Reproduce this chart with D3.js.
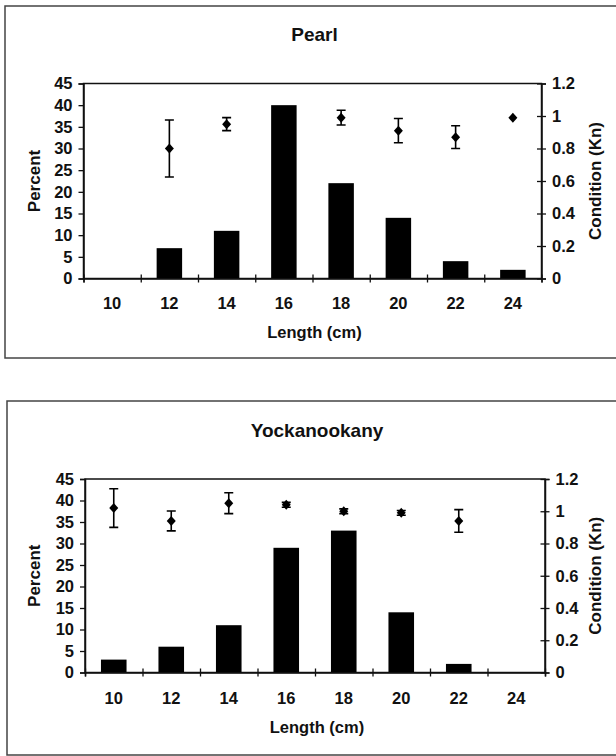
<!DOCTYPE html>
<html>
<head>
<meta charset="utf-8">
<script src="https://cdn.jsdelivr.net/npm/d3@7"></script>
<style>
  body { margin: 0; background: #fff; }
  text { font-family: "Liberation Sans", Arial, sans-serif; font-weight: bold; fill: #111; }
</style>
</head>
<body>
<script>
'use strict';

// length classes (cm)
const lengths = [10, 12, 14, 16, 18, 20, 22, 24];

// Pearl
const pearlPercent = [0, 7, 11, 40, 22, 14, 4, 2];
const pearlKn = [null, 0.80, 0.95, null, 0.99, 0.91, 0.87, 0.99];
const pearlKnErr = [null, 0.175, 0.04, null, 0.045, 0.075, 0.07, 0];

// Yockanookany
const yockPercent = [3, 6, 11, 29, 33, 14, 2, 0];
const yockKn = [1.02, 0.94, 1.05, 1.04, 1.00, 0.99, 0.94, null];
const yockKnErr = [0.12, 0.062, 0.065, 0.015, 0.015, 0.015, 0.07, null];

const percentTicks = [0, 5, 10, 15, 20, 25, 30, 35, 40, 45];
const knTicks = [0, 0.2, 0.4, 0.6, 0.8, 1, 1.2];

const svg = d3.select("body").append("svg")
    .attr("width", 616)
    .attr("height", 756);

const panels = [
    { title: "Pearl", percent: pearlPercent, kn: pearlKn, err: pearlKnErr,
      frame: [5, 6, 358], titleY: 34, left: 83.5, right: 541.5, top: 83.5, bottom: 278.5,
      labelY: 303, xTitleY: 332 },
    { title: "Yockanookany", percent: yockPercent, kn: yockKn, err: yockKnErr,
      frame: [7, 401, 755], titleY: 430, left: 85, right: 545, top: 479, bottom: 672.5,
      labelY: 698, xTitleY: 727 }
];

panels.forEach(drawPanel);

function drawPanel(p) {
    // outer frame (runs off the right edge in the scan)
    svg.append("rect")
        .attr("x", p.frame[0]).attr("y", p.frame[1])
        .attr("width", 640).attr("height", p.frame[2] - p.frame[1])
        .attr("fill", "none").attr("stroke", "#444").attr("stroke-width", 1.5);

    const g = svg.append("g");

    const x = d3.scaleBand()
        .domain(lengths)
        .range([p.left, p.right]);

    const edge = d3.scaleLinear()
        .domain([0, lengths.length])
        .range([p.left, p.right]);

    const y = d3.scaleLinear().domain([0, 45]).range([p.bottom, p.top]);
    const y2 = d3.scaleLinear().domain([0, 1.2]).range([p.bottom, p.top]);

    // plot area border
    g.append("rect")
        .attr("x", p.left).attr("y", p.top)
        .attr("width", p.right - p.left).attr("height", p.bottom - p.top)
        .attr("fill", "none").attr("stroke", "#111").attr("stroke-width", 1.5);

    // bars
    const bw = x.bandwidth() * 0.445;
    g.selectAll("rect.bar")
        .data(p.percent)
        .enter().append("rect")
        .attr("class", "bar")
        .attr("x", (d, i) => x(lengths[i]) + x.bandwidth() / 2 - bw / 2)
        .attr("y", d => y(d))
        .attr("width", bw)
        .attr("height", d => p.bottom - y(d))
        .attr("fill", "#000");

    // left axis
    const yAxis = g.append("g")
        .attr("transform", `translate(${p.left},0)`)
        .call(d3.axisLeft(y).tickValues(percentTicks).tickSize(5).tickPadding(6));
    styleAxis(yAxis);

    // right axis, ticks crossing
    const y2Axis = g.append("g")
        .attr("transform", `translate(${p.right},0)`)
        .call(d3.axisRight(y2).tickValues(knTicks).tickSize(4.5).tickPadding(6)
            .tickFormat(d => String(+d.toFixed(1))));
    styleAxis(y2Axis);
    y2Axis.selectAll(".tick line").attr("x1", -4.5);

    // x axis: ticks at class boundaries, crossing
    const xAxis = g.append("g")
        .attr("transform", `translate(0,${p.bottom})`)
        .call(d3.axisBottom(edge).tickValues(d3.range(lengths.length + 1)).tickSize(4).tickFormat(""));
    styleAxis(xAxis);
    xAxis.selectAll(".tick line").attr("y1", -4);

    // x labels at class centres
    g.selectAll("text.xl")
        .data(lengths)
        .enter().append("text")
        .attr("class", "xl")
        .attr("x", d => x(d) + x.bandwidth() / 2)
        .attr("y", p.labelY)
        .attr("text-anchor", "middle")
        .attr("dominant-baseline", "central")
        .style("font-size", "16.5px")
        .text(d => d);

    // condition points with error bars
    const pts = lengths.map((l, i) => ({ l: l, m: p.kn[i], e: p.err[i] }))
        .filter(d => d.m !== null);
    const cx = d => x(d.l) + x.bandwidth() / 2;

    pts.filter(d => d.e > 0).forEach(d => {
        const c = cx(d);
        const path = d3.path();
        path.moveTo(c, y2(d.m - d.e)); path.lineTo(c, y2(d.m + d.e));
        path.moveTo(c - 4.5, y2(d.m + d.e)); path.lineTo(c + 4.5, y2(d.m + d.e));
        path.moveTo(c - 4.5, y2(d.m - d.e)); path.lineTo(c + 4.5, y2(d.m - d.e));
        g.append("path").attr("d", path.toString())
            .attr("stroke", "#000").attr("stroke-width", 1.6).attr("fill", "none");
    });

    g.selectAll("path.pt")
        .data(pts)
        .enter().append("path")
        .attr("class", "pt")
        .attr("d", d => {
            const c = cx(d), m = y2(d.m);
            const path = d3.path();
            path.moveTo(c, m - 5); path.lineTo(c + 4.5, m);
            path.lineTo(c, m + 5); path.lineTo(c - 4.5, m); path.closePath();
            return path.toString();
        })
        .attr("fill", "#000");

    // titles
    const mid = (p.left + p.right) / 2 + 2;
    svg.append("text")
        .attr("x", mid).attr("y", p.titleY)
        .attr("text-anchor", "middle").attr("dominant-baseline", "central")
        .style("font-size", "19px")
        .text(p.title);

    svg.append("text")
        .attr("x", mid).attr("y", p.xTitleY)
        .attr("text-anchor", "middle").attr("dominant-baseline", "central")
        .style("font-size", "16.5px")
        .text("Length (cm)");

    const cy = (p.top + p.bottom) / 2;
    svg.append("text")
        .attr("transform", `translate(34,${cy}) rotate(-90)`)
        .attr("text-anchor", "middle").attr("dominant-baseline", "central")
        .style("font-size", "17px")
        .text("Percent");

    svg.append("text")
        .attr("transform", `translate(595,${cy}) rotate(-90)`)
        .attr("text-anchor", "middle").attr("dominant-baseline", "central")
        .style("font-size", "17px")
        .text("Condition (Kn)");
}

function styleAxis(a) {
    a.select(".domain").attr("stroke", "#111").attr("stroke-width", 1.5);
    a.selectAll(".tick line").attr("stroke", "#111").attr("stroke-width", 1.3);
    a.selectAll(".tick text")
        .style("font-size", "16.5px")
        .style("font-family", "'Liberation Sans', Arial, sans-serif")
        .style("font-weight", "bold")
        .attr("fill", "#111");
}
</script>
</body>
</html>
